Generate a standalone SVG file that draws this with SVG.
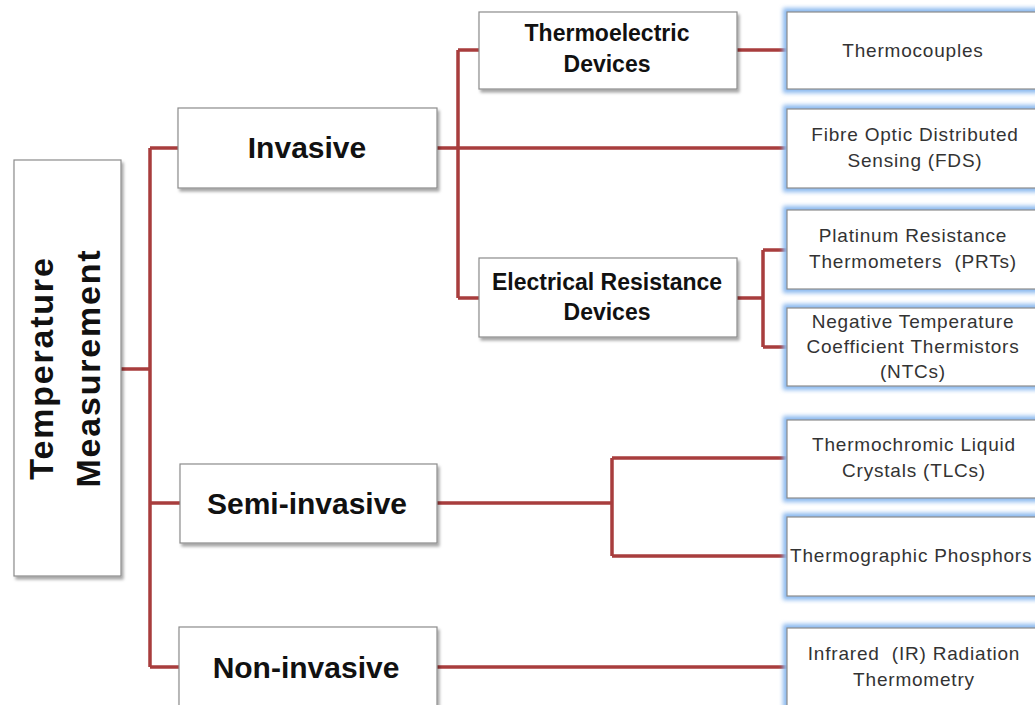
<svg xmlns="http://www.w3.org/2000/svg" width="1035" height="705" viewBox="0 0 1035 705">
<defs>
<filter id="shadow" x="-10%" y="-10%" width="130%" height="140%">
<feDropShadow dx="2" dy="3" stdDeviation="1.6" flood-color="#000" flood-opacity="0.35"/>
</filter>
<filter id="glow" x="-10%" y="-20%" width="130%" height="150%">
<feGaussianBlur stdDeviation="2"/>
</filter>
<style>
.box{fill:#fff;stroke:#8c8c8c;stroke-width:1.2}
.glow{fill:none;stroke:#8bb9ef;stroke-width:8}
.hb{font-family:"Liberation Sans",Arial,sans-serif;font-weight:bold;fill:#111;text-anchor:middle}
.lf{font-family:"Liberation Sans",Arial,sans-serif;font-size:19px;letter-spacing:0.8px;fill:#333;text-anchor:middle;white-space:pre}
.con{fill:none;stroke:#a83d3d;stroke-width:3.5;stroke-linejoin:round}
</style>
</defs>
<rect width="1035" height="705" fill="#fff"/>

<g id="connectors">
<path class="con" d="M121 369 H150 M150 148 V667 M150 148 H178 M150 503 H180 M150 667 H179"/>
<path class="con" d="M437 148 H787 M458 50 V298 M458 50 H479 M458 298 H479"/>
<path class="con" d="M737 50 H787"/>
<path class="con" d="M737 298 H763 M763 250 V347 M763 250 H787 M763 347 H787"/>
<path class="con" d="M437 503 H612 M612 458 V556 M612 458 H787 M612 556 H787"/>
<path class="con" d="M437 667 H787"/>
</g>

<g id="root">
<rect class="box" x="14" y="160" width="107" height="416" filter="url(#shadow)"/>
<text class="hb" font-size="34" letter-spacing="1.8" transform="translate(53 368) rotate(-90)">Temperature</text>
<text class="hb" font-size="34" letter-spacing="1.8" transform="translate(100 368) rotate(-90)">Measurement</text>
</g>

<g id="invasive">
<rect class="box" x="178" y="108" width="259" height="80" filter="url(#shadow)"/>
<text class="hb" font-size="30" x="307" y="158">Invasive</text>
</g>
<g id="semi-invasive">
<rect class="box" x="180" y="464" width="257" height="79" filter="url(#shadow)"/>
<text class="hb" font-size="30" x="307" y="514">Semi-invasive</text>
</g>
<g id="non-invasive">
<rect class="box" x="179" y="627" width="258" height="82" filter="url(#shadow)"/>
<text class="hb" font-size="30" x="306" y="678">Non-invasive</text>
</g>

<g id="thermoelectric">
<rect class="box" x="479" y="12" width="258" height="77" filter="url(#shadow)"/>
<text class="hb" font-size="23" x="607" y="41">Thermoelectric</text>
<text class="hb" font-size="23" x="607" y="72">Devices</text>
</g>
<g id="electrical">
<rect class="box" x="479" y="258" width="258" height="79" filter="url(#shadow)"/>
<text class="hb" font-size="23" x="607" y="290">Electrical Resistance</text>
<text class="hb" font-size="23" x="607" y="320">Devices</text>
</g>

<g id="thermocouples">
<rect class="glow" x="787" y="12" width="260" height="77" filter="url(#glow)"/>
<rect class="box" x="787" y="12" width="260" height="77"/>
<text class="lf" x="913" y="57">Thermocouples</text>
</g>
<g id="fds">
<rect class="glow" x="787" y="109" width="260" height="79" filter="url(#glow)"/>
<rect class="box" x="787" y="109" width="260" height="79"/>
<text class="lf" x="915" y="141">Fibre Optic Distributed</text>
<text class="lf" x="915" y="167">Sensing (FDS)</text>
</g>
<g id="prt">
<rect class="glow" x="787" y="210" width="260" height="79" filter="url(#glow)"/>
<rect class="box" x="787" y="210" width="260" height="79"/>
<text class="lf" x="913" y="242">Platinum Resistance</text>
<text class="lf" x="913" y="268" xml:space="preserve">Thermometers  (PRTs)</text>
</g>
<g id="ntc">
<rect class="glow" x="787" y="308" width="260" height="78" filter="url(#glow)"/>
<rect class="box" x="787" y="308" width="260" height="78"/>
<text class="lf" x="913" y="328">Negative Temperature</text>
<text class="lf" x="913" y="353">Coefficient Thermistors</text>
<text class="lf" x="913" y="378">(NTCs)</text>
</g>
<g id="tlc">
<rect class="glow" x="787" y="420" width="260" height="78" filter="url(#glow)"/>
<rect class="box" x="787" y="420" width="260" height="78"/>
<text class="lf" x="914" y="451">Thermochromic Liquid</text>
<text class="lf" x="914" y="477">Crystals (TLCs)</text>
</g>
<g id="phosphors">
<rect class="glow" x="787" y="517" width="260" height="79" filter="url(#glow)"/>
<rect class="box" x="787" y="517" width="260" height="79"/>
<text class="lf" x="790" y="562" style="text-anchor:start">Thermographic Phosphors</text>
</g>
<g id="infrared">
<rect class="glow" x="787" y="628" width="260" height="82" filter="url(#glow)"/>
<rect class="box" x="787" y="628" width="260" height="82"/>
<text class="lf" x="914" y="660" xml:space="preserve">Infrared  (IR) Radiation</text>
<text class="lf" x="914" y="686">Thermometry</text>
</g>
</svg>
